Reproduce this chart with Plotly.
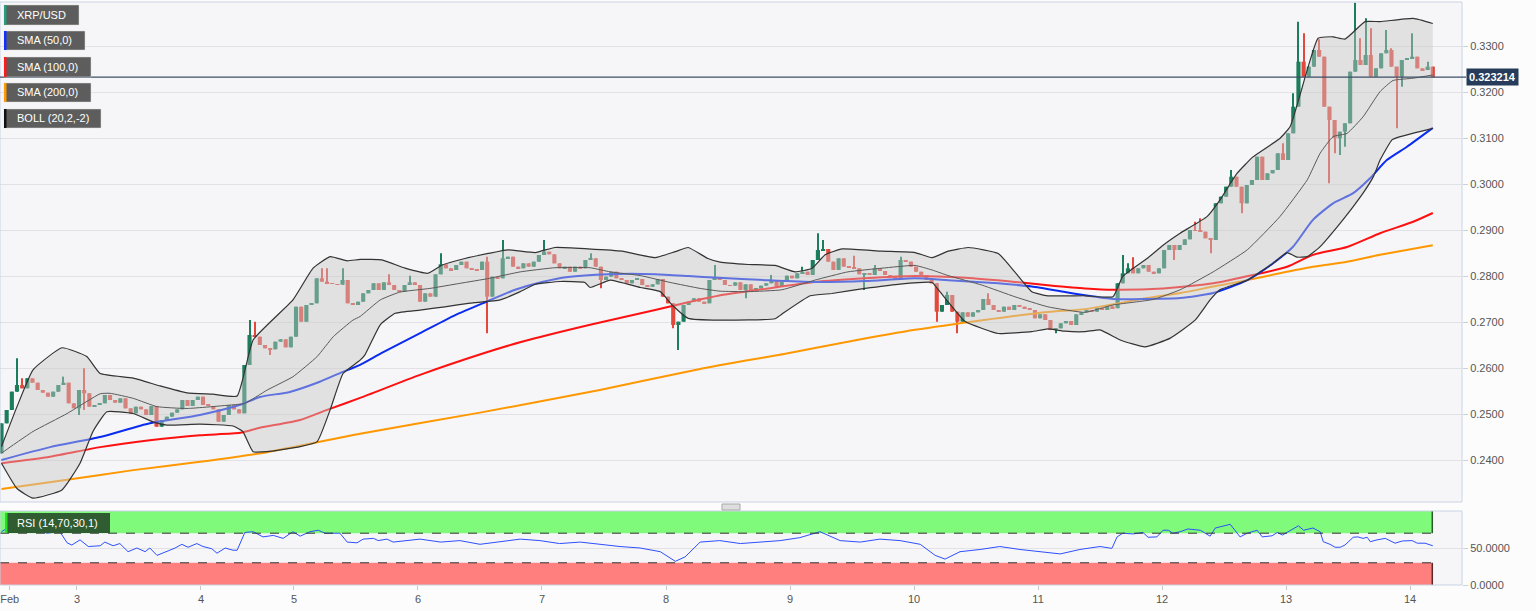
import plotly.graph_objects as go

# ---------------- data (hourly candles, index 0 = first candle on Feb 2) ----------------
OPEN0 = 0.24145
CLOSE = [
    0.24797, 0.25087, 0.25486, 0.25630, 0.25558, 0.25775, 0.25681, 0.25522, 0.25464, 0.25377,
    0.25486, 0.25630, 0.25681, 0.25232, 0.25123, 0.25522, 0.25449, 0.25159, 0.25196, 0.25232,
    0.25413, 0.25304, 0.25246, 0.25341, 0.25123, 0.25014, 0.25159, 0.25101, 0.24978, 0.25174,
    0.24725, 0.24870, 0.24942, 0.25029, 0.25101, 0.25304, 0.25174, 0.25304, 0.25377, 0.25196,
    0.25174, 0.25101, 0.24833, 0.24978, 0.25196, 0.25101, 0.25014, 0.26065, 0.26717, 0.26681,
    0.26500, 0.26428, 0.26406, 0.26572, 0.26623, 0.26449, 0.26681, 0.27333, 0.27007, 0.27370,
    0.27406, 0.27949, 0.27877, 0.27841, 0.27826, 0.27812, 0.27913, 0.27406, 0.27370, 0.27442,
    0.27623, 0.27696, 0.27841, 0.27696, 0.27862, 0.27804, 0.27696, 0.27659, 0.27804, 0.27862,
    0.27804, 0.27442, 0.27623, 0.27551, 0.28036, 0.28254, 0.28167, 0.28130, 0.28239, 0.28312,
    0.28167, 0.28150, 0.28130, 0.28312, 0.27551, 0.27986, 0.27949, 0.28384, 0.28420, 0.28203,
    0.28167, 0.28275, 0.28203, 0.28312, 0.28457, 0.28529, 0.28471, 0.28275, 0.28167, 0.28203,
    0.28094, 0.28203, 0.28167, 0.28348, 0.28384, 0.28203, 0.27913, 0.27986, 0.28094, 0.27949,
    0.27913, 0.27841, 0.27913, 0.27935, 0.27804, 0.27768, 0.27819, 0.27935, 0.27551, 0.27406,
    0.26935, 0.27007, 0.27370, 0.27442, 0.27514, 0.27442, 0.27406, 0.27913, 0.27949,
    0.27913, 0.27804, 0.27790, 0.27862, 0.27696, 0.27819, 0.27696, 0.27732, 0.27790, 0.27841,
    0.27913, 0.27768, 0.27877, 0.28007, 0.27949, 0.28058, 0.28094, 0.28022, 0.28348, 0.28565,
    0.28587, 0.28312, 0.28130, 0.28384, 0.28203, 0.28181, 0.28167, 0.28036, 0.28058, 0.28022,
    0.28167, 0.28109, 0.28022, 0.27986, 0.27949, 0.28348, 0.28312, 0.28203, 0.28094, 0.28022,
    0.27913, 0.27841, 0.27225, 0.27370, 0.27587, 0.27225, 0.27007, 0.27210, 0.27116, 0.27210,
    0.27261, 0.27500, 0.27370, 0.27261, 0.27225, 0.27333, 0.27261, 0.27370, 0.27333, 0.27297,
    0.27261, 0.27080, 0.27167, 0.27043, 0.26826, 0.26862, 0.26971, 0.27022, 0.26935, 0.27167,
    0.27210, 0.27261, 0.27225, 0.27300, 0.27261, 0.27340, 0.27300,
    0.27841, 0.28058, 0.28167, 0.28058, 0.28167, 0.28239, 0.28094, 0.28058, 0.28167, 0.28565,
    0.28674, 0.28565, 0.28674, 0.28797, 0.29000, 0.28986, 0.28964, 0.28819, 0.28783, 0.29580,
    0.29725, 0.29942, 0.30159, 0.29942, 0.29580, 0.29978, 0.30087, 0.30594, 0.30087, 0.30232,
    0.30304, 0.30667, 0.30522, 0.31101, 0.31681, 0.32659, 0.32333, 0.32551, 0.32913, 0.32768,
    0.31681, 0.31391, 0.30993, 0.31138, 0.31319, 0.32442, 0.32696, 0.32587, 0.32804, 0.32333,
    0.32514, 0.32841, 0.32913, 0.32551, 0.32333, 0.32696, 0.32732, 0.32768, 0.32514, 0.32478,
    0.32551, 0.323214,
]
HIGH_WICK = {
    3: 0.26210, 4: 0.25775, 12: 0.25812, 16: 0.25993, 48: 0.27043, 49: 0.27007,
    62: 0.28167, 63: 0.28167, 66: 0.28167, 75: 0.28036, 79: 0.28007, 85: 0.28493,
    94: 0.28420, 97: 0.28783, 105: 0.28783, 114: 0.28493, 138: 0.28239,
    149: 0.28022, 155: 0.28203, 158: 0.28928, 159: 0.28783, 160: 0.28587, 165: 0.28442,
    169: 0.28239, 174: 0.28420, 183: 0.27659, 191: 0.27623,
    217: 0.28457, 218: 0.28275, 219: 0.28406, 231: 0.29181, 232: 0.29254, 238: 0.30304,
    248: 0.30884, 250: 0.31971, 251: 0.33529, 252: 0.33275, 255: 0.33145, 262: 0.33940,
    263: 0.33167, 264: 0.33601, 265: 0.33384, 268: 0.33348, 269: 0.32949, 273: 0.33275,
    276: 0.32659,
}
LOW_WICK = {
    15: 0.24978, 16: 0.25087, 52: 0.26283, 94: 0.26754, 116: 0.27732, 130: 0.26862,
    131: 0.26391, 144: 0.27514, 167: 0.27696, 181: 0.27007, 185: 0.26754, 204: 0.26754,
    227: 0.28348, 234: 0.28493, 240: 0.29362, 257: 0.30014, 258: 0.30667, 259: 0.30630,
    260: 0.30812, 270: 0.31210, 271: 0.32116,
}

SMA50_IDX = [0, 9.4, 19.1, 28.7, 38.4, 46.2, 50.0, 55.8, 61.6, 65.5, 69.4, 73.6, 81.4, 87.8, 93.6,
             99.4, 104.6, 109.6, 117.4, 126.5, 132.9, 138.7, 147.8, 157.4, 167.1, 176.8, 183.2,
             192.9, 199.4, 205.8, 209.7, 215.1, 221.7, 228.1, 234.5, 241.1, 246.1, 249.9, 253.8,
             257.7, 261.6, 264.9, 268.1, 272.0, 277]
SMA50_VAL = [0.2400, 0.2428, 0.2450, 0.2480, 0.2498, 0.2520, 0.2537, 0.2548, 0.2570, 0.2589,
             0.2607, 0.2633, 0.2678, 0.2715, 0.2743, 0.2770, 0.2787, 0.2798, 0.2804, 0.2804,
             0.2800, 0.2796, 0.2791, 0.2787, 0.2789, 0.2795, 0.2791, 0.2784, 0.2777, 0.2765,
             0.2758, 0.2750, 0.2750, 0.2752, 0.2763, 0.2791, 0.2828, 0.2863, 0.2922, 0.2958,
             0.2980, 0.3013, 0.3052, 0.3081, 0.3122]

SMA100_IDX = [0, 9.4, 19.1, 28.7, 38.4, 46.2, 50.0, 57.8, 63.0, 69.4, 81.0, 93.6, 100.7, 113.5,
              126.5, 132.9, 138.7, 147.8, 157.4, 167.1, 176.8, 186.5, 196.1, 202.5, 209.7, 215.1,
              224.8, 234.5, 242.2, 248.8, 253.8, 260.4, 266.8, 273.2, 277]
SMA100_VAL = [0.2393, 0.2407, 0.2428, 0.2443, 0.2454, 0.2459, 0.2470, 0.2487, 0.2509, 0.2535,
              0.2585, 0.2633, 0.2657, 0.2693, 0.2726, 0.2743, 0.2757, 0.2772, 0.2787, 0.2795,
              0.2800, 0.2796, 0.2787, 0.2780, 0.2773, 0.2770, 0.2773, 0.2784, 0.2802, 0.2820,
              0.2846, 0.2863, 0.2893, 0.2918, 0.2937]

SMA200_IDX = [0, 12.7, 25.5, 38.4, 51.4, 69.4, 92.6, 115.8, 135.2, 152.2, 163.8, 176.8, 189.8,
              202.5, 209.7, 221.7, 228.1, 234.5, 241.1, 247.4, 253.8, 260.4, 266.8, 277]
SMA200_VAL = [0.2337, 0.2357, 0.2378, 0.2396, 0.2417, 0.2457, 0.2503, 0.2552, 0.2598, 0.2632,
              0.2657, 0.2683, 0.2704, 0.2722, 0.2728, 0.2752, 0.2763, 0.2777, 0.2791, 0.2806,
              0.2820, 0.2831, 0.2846, 0.2867]

BB_UP_IDX = [0, 3.0, 6.1, 11.7, 16.5, 19.1, 25.5, 30.7, 35.9, 40.9, 45.6, 48.7, 56.4, 60.3, 63.6,
             66.9, 69.4, 73.6, 78.1, 82.5, 85.3, 89.7, 94.2, 98.0, 103.3, 107.1, 113.5, 120.1,
             126.5, 130.4, 132.9, 136.7, 139.1, 144.5, 149.7, 153.6, 156.9, 159.4, 162.7, 170.4,
             176.8, 180.1, 183.2, 187.1, 192.9, 196.1, 199.4, 202.5, 209.7, 215.1, 217.0, 221.7,
             224.8, 228.1, 233.3, 235.8, 239.1, 242.2, 247.4, 249.4, 252.7, 254.8, 257.7, 260.0,
             263.9, 266.8, 273.2, 277]
BB_UP_VAL = [0.2429, 0.2516, 0.2596, 0.2644, 0.2625, 0.2588, 0.2578, 0.2561, 0.2546, 0.2543,
             0.2539, 0.2661, 0.2748, 0.2817, 0.2842, 0.2833, 0.2836, 0.2835, 0.2817, 0.2806,
             0.2824, 0.2838, 0.2849, 0.2857, 0.2851, 0.2862, 0.2859, 0.2854, 0.2840, 0.2853,
             0.2862, 0.2838, 0.2830, 0.2825, 0.2823, 0.2809, 0.2817, 0.2846, 0.2859, 0.2854,
             0.2851, 0.2840, 0.2854, 0.2862, 0.2849, 0.2809, 0.2766, 0.2757, 0.2757, 0.2755,
             0.2799, 0.2838, 0.2867, 0.2893, 0.2929, 0.2965, 0.3023, 0.3059, 0.3099, 0.3125,
             0.3248, 0.3317, 0.3320, 0.3315, 0.3353, 0.3353, 0.3360, 0.3349]

BB_MID_IDX = [0, 6.1, 12.7, 19.1, 21.0, 25.5, 30.1, 35.9, 44.8, 47.1, 51.4, 56.4, 61.1, 64.2, 68.0,
              69.4, 73.3, 77.1, 82.9, 88.7, 94.5, 100.4, 107.1, 113.9, 117.8, 123.6, 129.4, 135.2,
              139.1, 144.5, 151.0, 157.4, 163.8, 170.4, 176.8, 180.1, 183.2, 189.8, 196.1, 202.5,
              209.7, 215.1, 222.9, 228.1, 234.5, 241.1, 247.4, 252.7, 255.2, 257.7, 260.4, 263.5,
              266.8, 269.3, 273.2, 277]
BB_MID_VAL = [0.2415, 0.2462, 0.2501, 0.2544, 0.2545, 0.2534, 0.2516, 0.2512, 0.2520, 0.2523,
              0.2552, 0.2581, 0.2625, 0.2668, 0.2704, 0.2712, 0.2748, 0.2765, 0.2773, 0.2784,
              0.2795, 0.2809, 0.2818, 0.2818, 0.2809, 0.2801, 0.2786, 0.2773, 0.2767, 0.2766,
              0.2770, 0.2791, 0.2809, 0.2817, 0.2823, 0.2813, 0.2801, 0.2780, 0.2755, 0.2733,
              0.2721, 0.2737, 0.2749, 0.2770, 0.2809, 0.2857, 0.2929, 0.3009, 0.3067, 0.3103,
              0.3110, 0.3146, 0.3201, 0.3225, 0.3230, 0.3237]

BB_LO_IDX = [0, 3.0, 6.1, 11.7, 15.2, 17.7, 20.4, 25.5, 29.3, 32.0, 38.4, 44.8, 46.7, 48.7, 51.4,
             57.8, 61.1, 63.6, 66.1, 69.4, 70.3, 73.3, 76.2, 81.0, 85.8, 90.7, 96.5, 100.4, 103.3,
             108.1, 112.9, 113.9, 117.8, 123.6, 127.5, 129.8, 132.9, 139.1, 149.7, 151.0, 156.5,
             160.7, 167.1, 173.5, 180.1, 181.6, 186.5, 189.8, 192.9, 199.4, 202.5, 205.8, 209.7,
             212.6, 216.5, 221.3, 226.2, 231.0, 233.9, 235.8, 241.1, 243.6, 246.1, 248.8, 250.7,
             252.7, 255.2, 258.5, 261.6, 263.5, 265.5, 266.8, 269.1, 270.7, 277]
BB_LO_VAL = [0.2393, 0.2338, 0.2317, 0.2335, 0.2393, 0.2462, 0.2505, 0.2501, 0.2483, 0.2476,
             0.2478, 0.2474, 0.2462, 0.2418, 0.2418, 0.2429, 0.2440, 0.2509, 0.2588, 0.2617,
             0.2628, 0.2694, 0.2719, 0.2726, 0.2733, 0.2741, 0.2748, 0.2766, 0.2782, 0.2788,
             0.2786, 0.2775, 0.2791, 0.2775, 0.2766, 0.2737, 0.2708, 0.2704, 0.2707, 0.2717,
             0.2757, 0.2762, 0.2773, 0.2782, 0.2786, 0.2766, 0.2701, 0.2686, 0.2675, 0.2679,
             0.2685, 0.2680, 0.2679, 0.2683, 0.2661, 0.2646, 0.2665, 0.2704, 0.2748, 0.2770,
             0.2791, 0.2809, 0.2828, 0.2851, 0.2841, 0.2842, 0.2864, 0.2907, 0.2951, 0.2980,
             0.3016, 0.3052, 0.3096, 0.3103, 0.3121]

RSI_IDX = [0, 1.6, 3.6, 6.1, 8.8, 11.3, 12.7, 13.6, 15.2, 16.8, 19.1, 20.0, 21.6, 22.9, 24.5,
           26.2, 27.8, 28.7, 30.1, 32.0, 33.6, 34.9, 36.1, 37.8, 39.0, 40.7, 41.7, 43.3, 44.8,
           45.6, 47.1, 48.7, 50.6, 52.6, 54.5, 56.4, 57.8, 59.7, 61.3, 62.6, 65.5, 66.9, 68.8,
           70.0, 72.0, 72.9, 74.6, 75.8, 77.1, 81.0, 85.0, 88.7, 92.6, 96.5, 100.4, 104.2, 108.0,
           112.0, 115.8, 119.7, 123.6, 127.5, 130.4, 132.3, 135.2, 139.0, 143.0, 146.8, 150.7,
           154.5, 158.4, 162.3, 166.2, 170.0, 173.9, 177.8, 180.7, 182.6, 185.5, 189.4, 193.2,
           197.1, 201.0, 204.9, 208.7, 212.6, 214.9, 215.9, 217.0, 219.0, 220.9, 221.9, 223.6,
           224.8, 225.8, 226.7, 228.1, 229.6, 232.0, 233.9, 234.9, 236.2, 237.8, 239.7, 241.1,
           243.0, 244.0, 245.9, 246.9, 247.9, 249.4, 251.0, 252.0, 253.8, 255.2, 255.8, 257.1,
           258.1, 259.1, 260.0, 261.6, 262.5, 263.5, 264.3, 264.9, 266.2, 267.8, 269.7, 271.1,
           273.0, 274.0, 275.5, 277.0]
RSI_VAL = [72, 79, 81, 77, 70, 72, 57, 54, 61, 52, 53, 58, 53, 56, 45,
           50, 45, 50, 40, 45, 50, 55, 51, 56, 52, 49, 43, 50, 47,
           47, 71, 72, 65, 67, 63, 72, 66, 72, 74, 70, 70, 58, 57,
           62, 63, 60, 62, 58, 59, 62, 58, 60, 55, 58, 62, 60, 56,
           58, 55, 52, 50, 45, 32, 38, 58, 60, 56, 58, 60,
           64, 72, 60, 58, 62, 60, 55, 40, 35, 45, 48, 52,
           48, 45, 42, 48, 52, 49.5, 65, 70, 69, 71, 64.5, 65,
           74, 74, 70, 72, 75.7, 74, 66, 77, 79, 82, 65, 70,
           74, 65, 66.5, 71, 67.5, 73, 80, 74, 77, 72, 58.5, 55,
           51, 51, 54, 64.5, 65, 63, 64.5, 58.5, 61, 63, 56.5, 59.5,
           60, 56.5, 56.5, 53]

DAY_TICK_IDX = [1.6, 14.6, 38.6, 56.6, 80.6, 104.6, 128.6, 152.6, 176.6, 200.6, 224.6, 248.6, 272.6]
DAY_TICK_TEXT = ["Feb", "3", "4", "5", "6", "7", "8", "9", "10", "11", "12", "13", "14"]

LAST_PRICE = 0.323214
LEGEND_LABELS = ["XRP/USD", "SMA (50,0)", "SMA (100,0)", "SMA (200,0)", "BOLL (20,2,-2)"]
LEGEND_COLORS = ["#2a9d78", "#1030ff", "#ff1a1a", "#ff9a00", "#111111"]
RSI_LABEL = "RSI (14,70,30,1)"

# ---------------- derived OHLC ----------------
N = len(CLOSE)
IDX = list(range(N))
OPEN = [OPEN0] + CLOSE[:-1]
HIGH = [max(o, c, HIGH_WICK.get(i, 0)) for i, (o, c) in enumerate(zip(OPEN, CLOSE))]
LOW = [min(o, c, LOW_WICK.get(i, 9)) for i, (o, c) in enumerate(zip(OPEN, CLOSE))]
UP_COL, DN_COL = "#1b7d5c", "#e2483c"
COLS = [UP_COL if c >= o else DN_COL for o, c in zip(OPEN, CLOSE)]

# ---------------- geometry ----------------
W, H = 1536, 611
ML, MR, MT, MB = 0, 74, 2, 26
PW, PH = W - ML - MR, H - MT - MB


def pxx(x):
    return (x - ML) / PW


def pxy(y):
    return (H - MB - y) / PH


MAIN_DOMAIN = [pxy(502), 1.0]
RSI_DOMAIN = [0.0, pxy(511)]
X_RANGE = [-0.29, 282.65]
Y_RANGE = [0.230870, 0.339565]

FONT = "Liberation Sans, Arial, sans-serif"
BAND_FILL = "rgba(200,200,200,0.45)"

fig = go.Figure()

# wicks and bodies
fig.add_trace(go.Bar(x=IDX, base=LOW, y=[h - l for h, l in zip(HIGH, LOW)], width=0.2,
                     marker=dict(color=COLS, line=dict(width=0)), xaxis="x", yaxis="y",
                     showlegend=False, hoverinfo="skip"))
fig.add_trace(go.Bar(x=IDX, base=[min(o, c) for o, c in zip(OPEN, CLOSE)],
                     y=[abs(c - o) for o, c in zip(OPEN, CLOSE)], width=0.8,
                     marker=dict(color=COLS, line=dict(width=0)), xaxis="x", yaxis="y",
                     showlegend=False, hoverinfo="skip"))

for idx, val, col in [(SMA200_IDX, SMA200_VAL, "#ff9800"),
                      (SMA100_IDX, SMA100_VAL, "#ff1010"),
                      (SMA50_IDX, SMA50_VAL, "#0a2cf0")]:
    fig.add_trace(go.Scatter(x=idx, y=val, mode="lines", line=dict(color=col, width=2, shape="spline", smoothing=0.6),
                             xaxis="x", yaxis="y", showlegend=False, hoverinfo="skip"))

# band fill drawn over candles and averages
fig.add_trace(go.Scatter(
    x=BB_UP_IDX + BB_LO_IDX[::-1], y=BB_UP_VAL + BB_LO_VAL[::-1],
    mode="lines", fill="toself", fillcolor=BAND_FILL, line=dict(width=0),
    xaxis="x", yaxis="y", showlegend=False, hoverinfo="skip"))
for idx, val, col, wd in [(BB_UP_IDX, BB_UP_VAL, "#333333", 1.2),
                          (BB_LO_IDX, BB_LO_VAL, "#333333", 1.2),
                          (BB_MID_IDX, BB_MID_VAL, "#5a5a5a", 1.0)]:
    fig.add_trace(go.Scatter(x=idx, y=val, mode="lines", line=dict(color=col, width=wd, shape="spline", smoothing=0.4),
                             xaxis="x", yaxis="y", showlegend=False, hoverinfo="skip"))

fig.add_trace(go.Scatter(x=RSI_IDX, y=RSI_VAL, mode="lines", line=dict(color="#2d4fff", width=1),
                         xaxis="x", yaxis="y2", showlegend=False, hoverinfo="skip"))

shapes = []
annotations = []
end_x = N - 1.1

# RSI zones
shapes.append(dict(type="rect", xref="x", yref="y2", x0=X_RANGE[0], x1=end_x, y0=70, y1=100,
                   fillcolor="#7ffa7b", line=dict(width=0), layer="below"))
shapes.append(dict(type="rect", xref="x", yref="y2", x0=X_RANGE[0], x1=end_x, y0=0, y1=30,
                   fillcolor="#ff7f7f", line=dict(width=0), layer="below"))
shapes.append(dict(type="line", xref="x", yref="y2", x0=end_x, x1=end_x, y0=70, y1=100,
                   line=dict(color="#2a5a2a", width=1.5)))
shapes.append(dict(type="line", xref="x", yref="y2", x0=end_x, x1=end_x, y0=0, y1=30,
                   line=dict(color="#5a2a2a", width=1.5)))
for lvl in (70, 30):
    shapes.append(dict(type="line", xref="x", yref="y2", x0=X_RANGE[0], x1=end_x, y0=lvl, y1=lvl,
                       line=dict(color="#333333", width=1, dash="dash")))

# panel borders
for yr in ("y domain", "y2 domain"):
    shapes.append(dict(type="rect", xref="paper", yref=yr, x0=0, x1=1, y0=0, y1=1,
                       line=dict(color="#c9d2e4", width=1), fillcolor="rgba(0,0,0,0)", layer="above"))

# last price line
shapes.append(dict(type="line", xref="paper", yref="y", x0=0, x1=pxx(1466), y0=LAST_PRICE, y1=LAST_PRICE,
                   line=dict(color="#3c4e66", width=1.2)))
annotations.append(dict(xref="paper", yref="y", x=pxx(1466), y=LAST_PRICE, xanchor="left", yanchor="middle",
                        text="<b>%.6f</b>" % LAST_PRICE, showarrow=False,
                        font=dict(family=FONT, size=11, color="white"),
                        bgcolor="#263c5a", borderpad=2))

# legend boxes (top-left)
BOXES = [(4, 79, 5, 25), (4, 85, 31, 50), (4, 91, 57, 77), (4, 91, 83, 102), (4, 101, 109, 128)]
for (x0, x1, y0, y1), lab, col in zip(BOXES, LEGEND_LABELS, LEGEND_COLORS):
    shapes.append(dict(type="rect", xref="paper", yref="paper", x0=pxx(x0), x1=pxx(x1), y0=pxy(y1), y1=pxy(y0),
                       fillcolor="#5d5d5d", line=dict(color="#dddddd", width=0.5), layer="above"))
    shapes.append(dict(type="rect", xref="paper", yref="paper", x0=pxx(x0), x1=pxx(x0 + 2.5), y0=pxy(y1), y1=pxy(y0),
                       fillcolor=col, line=dict(width=0), layer="above"))
    annotations.append(dict(xref="paper", yref="paper", x=pxx(15), y=pxy((y0 + y1) / 2), xanchor="left",
                            yanchor="middle", text=lab, showarrow=False,
                            font=dict(family=FONT, size=11, color="white")))

# RSI label box
shapes.append(dict(type="rect", xref="paper", yref="paper", x0=pxx(5), x1=pxx(110), y0=pxy(533), y1=pxy(513),
                   fillcolor="#2f5c30", line=dict(width=0), layer="above"))
shapes.append(dict(type="rect", xref="paper", yref="paper", x0=pxx(5), x1=pxx(7.5), y0=pxy(533), y1=pxy(513),
                   fillcolor="#22e022", line=dict(width=0), layer="above"))
annotations.append(dict(xref="paper", yref="paper", x=pxx(15), y=pxy(523), xanchor="left", yanchor="middle",
                        text=RSI_LABEL, showarrow=False, font=dict(family=FONT, size=11, color="white")))

# pane divider handle
shapes.append(dict(type="rect", xref="paper", yref="paper", x0=pxx(722), x1=pxx(740), y0=pxy(510), y1=pxy(504),
                   fillcolor="#dedede", line=dict(color="#a8a8a8", width=1), layer="above"))

fig.update_layout(
    width=W, height=H,
    margin=dict(l=ML, r=MR, t=MT, b=MB, autoexpand=False),
    paper_bgcolor="#fcfcfc", plot_bgcolor="#f6f6f8",
    font=dict(family=FONT, size=11, color="#555555"),
    showlegend=False, barmode="overlay",
    shapes=shapes, annotations=annotations,
    xaxis=dict(range=X_RANGE, anchor="y2",
               tickvals=DAY_TICK_IDX, ticktext=DAY_TICK_TEXT, ticks="outside", ticklen=4,
               tickcolor="#c8c8c8", showgrid=False, zeroline=False, showline=False,
               ticklabeloverflow="allow",
               tickfont=dict(family=FONT, size=11, color="#555555")),
    yaxis=dict(domain=MAIN_DOMAIN, range=Y_RANGE, side="right", tick0=0, dtick=0.01, tickformat=".4f",
               ticks="outside", ticklen=5, tickcolor="#c8d0e0", showgrid=True, gridcolor="#e2e2e6",
               zeroline=False, showline=False, tickfont=dict(family=FONT, size=11, color="#555555")),
    yaxis2=dict(domain=RSI_DOMAIN, range=[0, 100], side="right", tickvals=[0, 50],
                ticktext=["0.0000", "50.0000"], ticks="outside", ticklen=5, tickcolor="#c8d0e0",
                showgrid=True, gridcolor="#e2e2e6", zeroline=False, showline=False,
                tickfont=dict(family=FONT, size=11, color="#555555")),
)

fig.write_html("out.html", config={"displayModeBar": False},
               post_script="document.body.style.margin='0';document.body.style.overflow='hidden';")
